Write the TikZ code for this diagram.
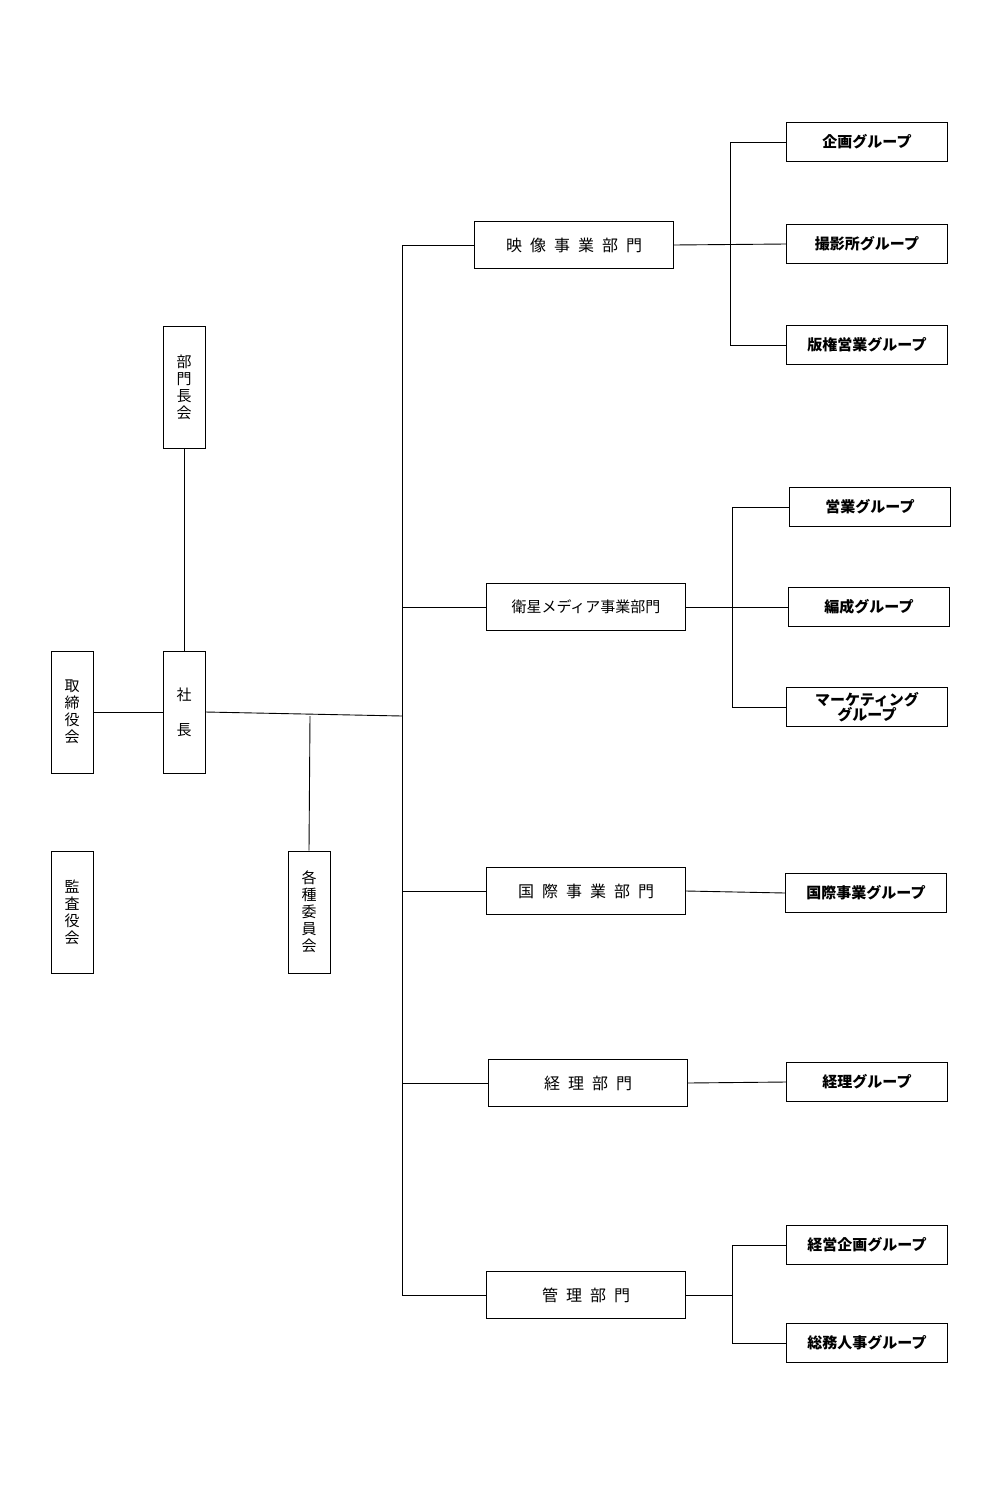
\documentclass[tikz,border=0pt]{standalone}
\usepackage{fontspec}
\newfontfamily\jp{Noto Sans CJK JP}
\begin{document}
\begin{tikzpicture}[x=1pt,y=-1pt,
  bx/.style={draw,line width=0.9pt,inner sep=0pt,font=\jp\fontsize{15}{17}\selectfont},
  gp/.style={draw,line width=0.9pt,inner sep=0pt,minimum width=161pt,minimum height=39pt,font=\jp\bfseries\fontsize{15}{15}\selectfont},
  dp/.style={draw,line width=0.9pt,inner sep=0pt,minimum width=199pt,minimum height=47pt,font=\jp\fontsize{16}{16}\selectfont},
  vb/.style={draw,line width=0.9pt,inner sep=0pt,minimum width=42pt,minimum height=122pt,align=center,font=\jp\fontsize{15}{17}\selectfont},
  ln/.style={line width=0.9pt}]
\useasboundingbox (0,0) rectangle (999,1499);
\node[vb] (bumon) at (184,387) {部\\門\\長\\会};
\node[vb] (shacho) at (184,712) {社\\[18pt]長};
\node[vb] (tori) at (72,712) {取\\締\\役\\会};
\node[vb] (kansa) at (72,912) {監\\査\\役\\会};
\node[vb] (kaku) at (309,912) {各\\種\\委\\員\\会};
\coordinate (t1) at (402,716);
\coordinate (k1) at (310,716);
\draw[ln] (bumon) -- (shacho);
\draw[ln] (tori.east) -- (shacho.west);
\draw[ln] (shacho.east) -- (t1);
\draw[ln] (k1) -- (kaku.north);
\coordinate (ttop) at (402,245);
\coordinate (tbot) at (402,1295);
\draw[ln] (ttop) -- (tbot);
\node[dp] (d1) at (574,245) {映\hspace{0.5em}像\hspace{0.5em}事\hspace{0.5em}業\hspace{0.5em}部\hspace{0.5em}門};
\node[dp] (d2) at (586,607) {\fontsize{15}{15}\selectfont 衛星メディア事業部門};
\node[dp] (d3) at (586,891) {国\hspace{0.5em}際\hspace{0.5em}事\hspace{0.5em}業\hspace{0.5em}部\hspace{0.5em}門};
\node[dp] (d4) at (588,1083) {経\hspace{0.5em}理\hspace{0.5em}部\hspace{0.5em}門};
\node[dp] (d5) at (586,1295) {管\hspace{0.5em}理\hspace{0.5em}部\hspace{0.5em}門};
\foreach \d in {d1,d2,d3,d4,d5} \draw[ln] (\d.west) -- (402,0 |- \d.west);
\node[gp] (g1) at (867,142) {企画グループ};
\node[gp] (g2) at (867,244) {撮影所グループ};
\node[gp] (g3) at (867,345) {版権営業グループ};
\node[gp] (g4) at (870,507) {営業グループ};
\node[gp] (g5) at (869,607) {編成グループ};
\node[gp,align=center,font=\jp\bfseries\fontsize{15}{15}\selectfont] (g6) at (867,707) {マーケティング\\グループ};
\node[gp] (g7) at (866,893) {国際事業グループ};
\node[gp] (g8) at (867,1082) {経理グループ};
\node[gp] (g9) at (867,1245) {経営企画グループ};
\node[gp] (g10) at (867,1343) {総務人事グループ};
\draw[ln] (d1.east) -- (g2.west);
\draw[ln] (g1.west) -- (730,142) -- (730,345) -- (g3.west);
\draw[ln] (d2.east) -- (g5.west);
\draw[ln] (g4.west) -- (732,507) -- (732,707) -- (g6.west);
\draw[ln] (d3.east) -- (g7.west);
\draw[ln] (d4.east) -- (g8.west);
\draw[ln] (d5.east) -- (732,1295);
\draw[ln] (g9.west) -- (732,1245) -- (732,1343) -- (g10.west);
\end{tikzpicture}
\end{document}
